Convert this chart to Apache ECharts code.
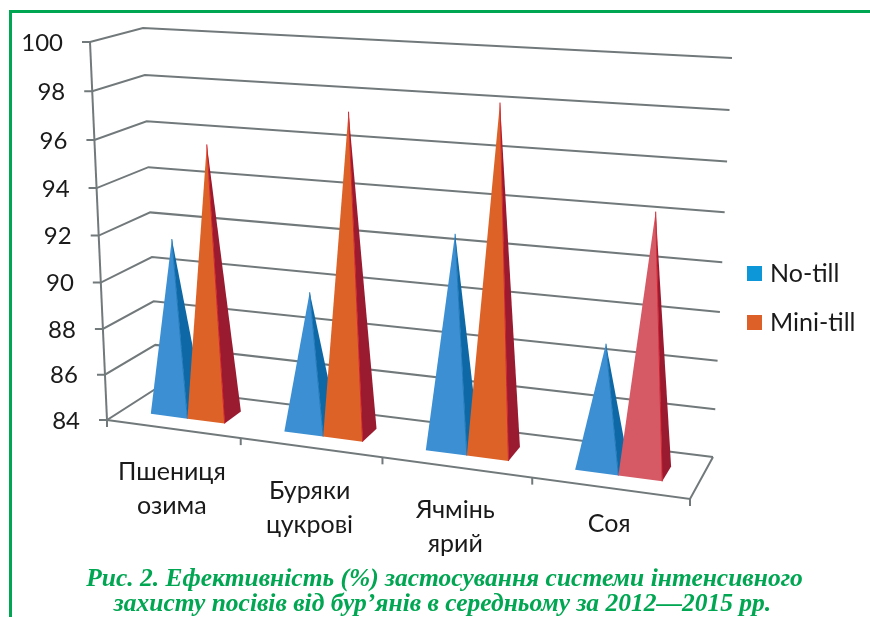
<!DOCTYPE html>
<html>
<head>
<meta charset="utf-8">
<style>
  html, body { margin: 0; padding: 0; background: #fff; }
  #chart { width: 870px; height: 617px; }
</style>
</head>
<body>
<div id="chart"></div>
<script src="https://cdn.jsdelivr.net/npm/echarts@6/dist/echarts.min.js"></script>
<script>
  const categories = ['Пшениця\nозима', 'Буряки\nцукрові', 'Ячмінь\nярий', 'Соя'];
  const noTill = [91.55, 89.85, 92.85, 89.0];
  const miniTill = [95.7, 97.45, 98.2, 94.4];
  const valueTicks = [84, 86, 88, 90, 92, 94, 96, 98, 100];
  const captionLines = [
    'Рис. 2. Ефективність (%) застосування системи інтенсивного',
    'захисту посівів від бур’янів в середньому за 2012—2015 рр.'
  ];

  const GREEN = '#00a651';
  const GREY = '#72797b';
  const LABEL_FONT = 'Lato, "Noto Sans", sans-serif';

  // corners of the box on screen: front-left, front-right, back-right, back-left
  const floorQuad = [[107, 420], [690, 499], [713, 457], [157, 388]];
  const topQuad = [[90, 42], [712, 78], [732, 58], [143, 28]];

  function lerp(a, b, t) {
    return [a[0] + (b[0] - a[0]) * t, a[1] + (b[1] - a[1]) * t];
  }
  function quadAt(q, u, w) {
    return lerp(lerp(q[0], q[1], u), lerp(q[3], q[2], u), w);
  }

  // axis position (category index + offset in bands, value) + depth -> screen point
  function project(params, api, catIndex, bandOffset, value, depth) {
    const cs = params.coordSys;
    const p = api.coord([catIndex, value]);
    const x = (p[0] + bandOffset * api.size([1, 0])[0] - cs.x) / cs.width;
    const h = (cs.y + cs.height - p[1]) / cs.height;
    // the box gets wider to the right and taller to the top
    const u = x - 0.11 * x * (1 - x);
    const t = h / (h + 1.05 * (1 - h));
    return lerp(quadAt(floorQuad, u, depth), quadAt(topQuad, u, depth), t);
  }

  function line(points) {
    return {
      type: 'polyline',
      shape: { points },
      style: { stroke: GREY, lineWidth: 2, fill: null }
    };
  }

  function renderWall(params, api) {
    const v = api.value(1);
    const front = project(params, api, 0, -0.5, v, 0);
    const corner = project(params, api, 0, -0.5, v, 1);
    const right = project(params, api, categories.length - 1, 0.5, v, 1);
    const children = [
      line([[front[0] - 8, front[1]], front, corner, right]),
      {
        type: 'text',
        style: {
          x: front[0] - 27, y: front[1] + 1, text: String(v),
          fill: '#1a1a1a', fontSize: 24, fontFamily: LABEL_FONT,
          align: 'right', verticalAlign: 'middle'
        }
      }
    ];
    if (v === valueTicks[0]) {
      const frontRight = project(params, api, categories.length - 1, 0.5, v, 0);
      const top = project(params, api, 0, -0.5, valueTicks[valueTicks.length - 1], 0);
      children.push(line([front, top]));
      children.push(line([front, frontRight, right]));
      children.push(line([frontRight, [frontRight[0], frontRight[1] + 7]]));
      children.push(line([front, [front[0], front[1] + 7]]));
    }
    return { type: 'group', children };
  }

  function renderCategory(params, api) {
    const i = api.value(0);
    const v = valueTicks[0];
    const mid = project(params, api, i, 0, v, 0);
    const tick = project(params, api, i, 0.5, v, 0);
    const name = categories[i];
    const oneLine = name.indexOf('\n') < 0;
    const children = [
      {
        type: 'text',
        style: {
          x: mid[0] - 1, y: mid[1] + (oneLine ? 36 : 60), text: name,
          fill: '#1a1a1a', fontSize: 25, lineHeight: 34, fontFamily: LABEL_FONT,
          align: 'center', verticalAlign: 'middle'
        }
      }
    ];
    if (i < categories.length - 1) {
      children.push(line([tick, [tick[0], tick[1] + 7]]));
    }
    return { type: 'group', children };
  }

  // seriesSlot 0/1: left or right pyramid inside the band
  function pyramidRenderer(seriesSlot, frontColor, sideColor, edgeColor, soyaFront) {
    return function (params, api) {
      const i = api.value(0);
      const v = api.value(1);
      const base = valueTicks[0];
      const o0 = -0.5 + 0.22 + seriesSlot * 0.28;
      const o1 = o0 + 0.28;
      const d0 = 0.31, d1 = 0.67;
      const fl = project(params, api, i, o0, base, d0);
      const fr = project(params, api, i, o1, base, d0);
      const br = project(params, api, i, o1, base, d1);
      const apex = project(params, api, i, (o0 + o1) / 2, v, (d0 + d1) / 2);
      const front = soyaFront && categories[i] === 'Соя' ? soyaFront : frontColor;
      return {
        type: 'group',
        children: [
          { type: 'polygon', shape: { points: [fr, br, apex] }, style: { fill: sideColor } },
          { type: 'polygon', shape: { points: [fl, fr, apex] }, style: { fill: front } },
          { type: 'line', shape: { x1: fr[0], y1: fr[1], x2: apex[0], y2: apex[1] }, style: { stroke: edgeColor, lineWidth: 1 } }
        ]
      };
    };
  }

  const myChart = echarts.init(document.getElementById('chart'), null, { renderer: 'canvas' });
  const catIdx = categories.map((c, i) => i);

  myChart.setOption({
    animation: false,
    backgroundColor: '#fff',
    grid: { left: 100, right: 170, top: 40, bottom: 170 },
    xAxis: { type: 'category', data: categories, show: false },
    yAxis: { type: 'value', min: 84, max: 100, interval: 2, show: false },
    legend: {
      data: ['No-till', 'Mini-till'],
      orient: 'vertical',
      left: 742,
      top: 256,
      itemWidth: 15,
      itemHeight: 15,
      itemGap: 24,
      icon: 'rect',
      textStyle: { fontSize: 25, fontFamily: LABEL_FONT, color: '#1a1a1a', padding: [0, 0, 0, 3] }
    },
    graphic: [
      { type: 'rect', shape: { x: 9, y: 10, width: 861, height: 3 }, style: { fill: GREEN } },
      { type: 'rect', shape: { x: 9, y: 10, width: 3, height: 607 }, style: { fill: GREEN } },
      {
        type: 'text', x: 444.5, y: 579,
        style: {
          text: captionLines[0], fill: GREEN, fontSize: 25.5, fontStyle: 'italic', fontWeight: 'bold',
          fontFamily: '"Liberation Serif", serif', align: 'center', verticalAlign: 'middle'
        }
      },
      {
        type: 'text', x: 442.5, y: 604,
        style: {
          text: captionLines[1], fill: GREEN, fontSize: 25.5, fontStyle: 'italic', fontWeight: 'bold',
          fontFamily: '"Liberation Serif", serif', align: 'center', verticalAlign: 'middle'
        }
      }
    ],
    series: [
      {
        name: 'walls', type: 'custom', renderItem: renderWall, silent: true,
        data: valueTicks.map(v => [0, v]), z: 1
      },
      {
        name: 'categories', type: 'custom', renderItem: renderCategory, silent: true,
        data: catIdx.map(i => [i, valueTicks[0]]), z: 2
      },
      {
        name: 'No-till', type: 'custom', z: 3,
        itemStyle: { color: '#0d96d8' },
        renderItem: pyramidRenderer(0, '#3b8fd2', '#0e68a5', '#1f78b8'),
        data: noTill.map((v, i) => [i, v])
      },
      {
        name: 'Mini-till', type: 'custom', z: 4,
        itemStyle: { color: '#dd6028' },
        renderItem: pyramidRenderer(1, '#dc6228', '#9a1a30', '#d3202c', '#d55a66'),
        data: miniTill.map((v, i) => [i, v])
      }
    ]
  });
  window.addEventListener('resize', myChart.resize);
</script>
</body>
</html>
